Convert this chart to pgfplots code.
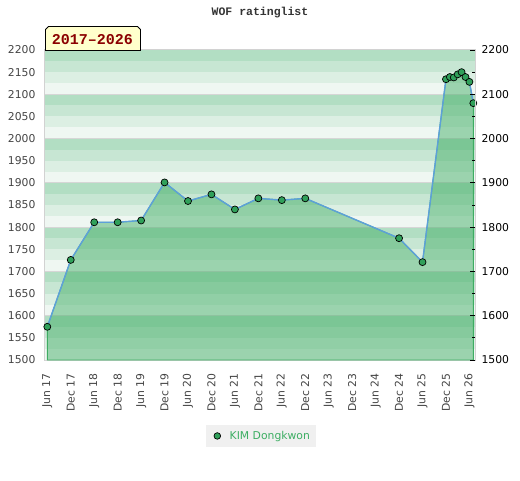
\documentclass[border=0pt]{standalone}
\usepackage{pgfplots}
\pgfplotsset{compat=1.18}
\usepackage{fontspec}
\setmainfont{DejaVu Sans}
\newfontfamily\monof{Liberation Mono}
\definecolor{sA}{HTML}{B2DEC3}
\definecolor{sB}{HTML}{C7E6D3}
\definecolor{sC}{HTML}{DCEFE3}
\definecolor{sD}{HTML}{EFF7F2}
\definecolor{gridgray}{HTML}{D6D6D6}
\definecolor{bordergray}{HTML}{D2D2D2}
\definecolor{seriesgreen}{HTML}{3EAC62}
\definecolor{markgreen}{HTML}{30A05A}
\definecolor{lineblue}{HTML}{5DA0DA}
\definecolor{legendgreen}{HTML}{3DAE63}
\definecolor{legendbg}{HTML}{F0F0F0}
\definecolor{boxyellow}{HTML}{FFFFCC}
\definecolor{darkred}{HTML}{8B0000}
\definecolor{ticktext}{HTML}{444444}
\definecolor{titletext}{HTML}{333333}

\pgfplotstableread{
x y
5 1575
11 1726
17 1811
23 1811
29 1815
35 1901
41 1859
47 1874
53 1840
59 1865
65 1861
71 1865
95 1775
101 1721
107 2134
108 2139
109 2138
110 2145
111 2150
112 2139
113 2128
114 2080
}\ratings

\begin{document}
\begin{tikzpicture}[x=1pt,y=1pt]
\useasboundingbox (0,0) rectangle (520,480);
\begin{axis}[
  at={(45pt,120pt)}, anchor=south west,
  scale only axis, width=430pt, height=310pt,
  xmin=4.41, xmax=114.43, ymin=1500, ymax=2200,
  axis line style={draw=bordergray, line width=1pt},
  xtick={5,11,17,23,29,35,41,47,53,59,65,71,77,83,89,95,101,107,113},
  xticklabels={Jun 17,Dec 17,Jun 18,Dec 18,Jun 19,Dec 19,Jun 20,Dec 20,Jun 21,Dec 21,Jun 22,Dec 22,Jun 23,Dec 23,Jun 24,Dec 24,Jun 25,Dec 25,Jun 26},
  ytick={1500,1550,...,2200},
  major tick length=0pt,
  tick style={draw=none},
  xticklabel style={font=\fontsize{10.8}{12}\selectfont, text=ticktext, yshift=-10pt, rotate=90, anchor=east},
  yticklabel style={font=\fontsize{10.8}{12}\selectfont, text=ticktext, xshift=-6pt},
  /pgf/number format/assume math mode=true,
  /pgf/number format/1000 sep={},
  legend style={at={(axis description cs:0.502,-0.245)}, anchor=center, fill=legendbg, draw=none,
    font=\fontsize{10.8}{12}\selectfont, text=legendgreen, inner xsep=3.8pt, inner ysep=4.3pt},
  clip=true,
]
\pgfplotsinvokeforeach{1500,1600,...,2100}{
  \fill[sA] (axis cs:4.41,#1+75) rectangle (axis cs:114.43,#1+100);
  \fill[sB] (axis cs:4.41,#1+50) rectangle (axis cs:114.43,#1+75);
  \fill[sC] (axis cs:4.41,#1+25) rectangle (axis cs:114.43,#1+50);
  \fill[sD] (axis cs:4.41,#1) rectangle (axis cs:114.43,#1+25);
  \draw[gridgray, line width=1pt] (axis cs:4.41,#1) -- (axis cs:114.43,#1);
}
\addplot[draw=seriesgreen, line width=0.9pt, fill=seriesgreen, fill opacity=0.47, forget plot] table[x=x,y=y]{\ratings} \closedcycle;
\addplot[draw=lineblue, line width=1.4pt, mark=*, mark size=3.5pt,
  mark options={fill=markgreen, draw=black, line width=0.7pt}, forget plot] table[x=x,y=y]{\ratings};
\addlegendimage{legend image code/.code={
  \path[draw=none, fill=none] (0pt,-3.3pt) rectangle (17.9pt,3.3pt);
  \draw[draw=none, mark=*, mark size=3.3pt, mark options={fill=markgreen, draw=black, line width=0.7pt}] plot coordinates {(7.5pt,0pt)};
}}
\addlegendentry{KIM Dongkwon}
\end{axis}
\begin{axis}[
  at={(45pt,120pt)}, anchor=south west,
  scale only axis, width=430pt, height=310pt,
  xmin=4.41, xmax=114.43, ymin=1500, ymax=2200,
  axis x line=none, axis y line*=right,
  axis line style={draw=bordergray, line width=1pt},
  ytick={1500,1600,...,2200},
  minor ytick={1550,1650,...,2150},
  tick align=inside,
  major tick length=5pt, minor tick length=3.5pt,
  tick style={draw=black, line width=0.8pt},
  yticklabel style={font=\fontsize{10.8}{12}\selectfont, text=black, xshift=3pt},
  /pgf/number format/assume math mode=true,
  /pgf/number format/1000 sep={},
]
\addplot[draw=none, forget plot] coordinates {(5,1500)};
\end{axis}
\node[font=\monof\bfseries\fontsize{11.5}{12}\selectfont, text=titletext] at (260,467) {WOF ratinglist};
\draw[fill=boxyellow, line width=0.8pt] (45.5,429.5) -- (45.5,450.5) -- (48.5,453.5) -- (137.5,453.5) -- (140.5,450.5) -- (140.5,429.5) -- cycle;
\node[text=darkred, font=\monof\bfseries\fontsize{15}{16}\selectfont] at (92.5,440.5) {2017–2026};
\end{tikzpicture}
\end{document}
